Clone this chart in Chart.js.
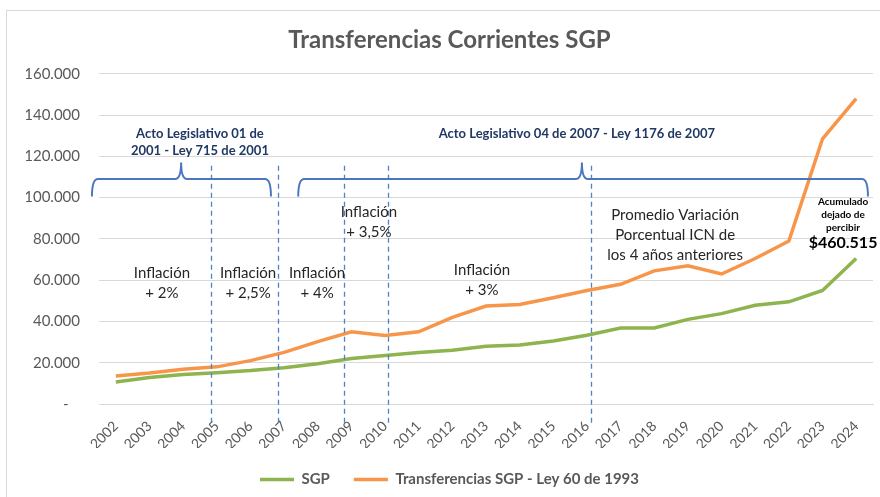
<!DOCTYPE html>
<html>
<head>
<meta charset="utf-8">
<script src="https://cdn.jsdelivr.net/npm/chart.js@4"></script>
<style>
  html, body { margin: 0; padding: 0; background: #fff; }
  #wrap { width: 880px; height: 497px; position: relative; }
</style>
</head>
<body>
<div id="wrap"><canvas id="lineChart"></canvas></div>
<script>
// datos
const years = ['2002','2003','2004','2005','2006','2007','2008','2009','2010','2011','2012','2013',
               '2014','2015','2016','2017','2018','2019','2020','2021','2022','2023','2024'];
const sgp = [10700, 12800, 14300, 15200, 16200, 17600, 19500, 22000, 23500, 25000, 26000, 28000,
             28600, 30500, 33300, 36800, 36800, 41000, 43800, 47800, 49500, 55000, 70500];
const ley60 = [13600, 15000, 16800, 18000, 21000, 25000, 30200, 35000, 33200, 35000, 42000, 47500,
               48200, 51500, 55000, 58000, 64500, 67000, 63000, 70500, 79000, 128500, 148000];
const yTicks = [0, 20000, 40000, 60000, 80000, 100000, 120000, 140000, 160000];

// anotaciones (en unidades de los ejes: indice de año / valor)
const dashedAt = [2.83, 4.82, 6.78, 8.09, 14.12];
const braces = [
    { from: -0.71, to: 4.61, peak: 1.94 },
    { from: 5.42, to: 22.35, peak: 13.85 }
];
const actoLabels = [
    { x: 2.5, y: 131000, lines: ['Acto Legislativo 01 de', '2001 - Ley 715 de 2001'] },
    { x: 13.7, y: 131000, lines: ['Acto Legislativo 04 de 2007 - Ley 1176 de 2007'] }
];
const inflacionLabels = [
    { x: 1.37, y: 63200, lines: ['Inflación', '+ 2%'] },
    { x: 3.93, y: 63200, lines: ['Inflación', '+ 2,5%'] },
    { x: 5.98, y: 63200, lines: ['Inflación', '+ 4%'] },
    { x: 7.52, y: 92900, lines: ['Inflación', '+ 3,5%'] },
    { x: 10.88, y: 64700, lines: ['Inflación', '+ 3%'] },
    { x: 16.62, y: 91400, lines: ['Promedio Variación', 'Porcentual ICN de', 'los 4 años anteriores'] }
];
const acumuladoLines = ['Acumulado', 'dejado de', 'percibir'];
const acumuladoTotal = '$460.515';

function fmtMiles(v) {
    if (v === 0) return '-   ';
    return String(v).replace(/\B(?=(\d{3})+(?!\d))/g, '.');
}

const annotationPlugin = {
    id: 'notas',
    beforeDraw(chart) {
        const ctx = chart.ctx;
        ctx.save();
        ctx.fillStyle = '#ffffff';
        ctx.fillRect(0, 0, chart.width, chart.height);
        ctx.strokeStyle = '#d9d9d9';
        ctx.lineWidth = 1;
        ctx.strokeRect(6.5, 10.5, chart.width + 10, chart.height + 10);
        ctx.restore();
    },
    afterDraw(chart) {
        const ctx = chart.ctx;
        const xs = chart.scales.x, ys = chart.scales.y;
        ctx.save();

        // lineas punteadas
        ctx.strokeStyle = '#4f81c7';
        ctx.lineWidth = 1.3;
        ctx.setLineDash([5, 4]);
        dashedAt.forEach(function (d) {
            const px = Math.round(xs.getPixelForValue(d)) + 0.5;
            ctx.beginPath();
            ctx.moveTo(px, ys.getPixelForValue(115500));
            ctx.lineTo(px, ys.getPixelForValue(-11000));
            ctx.stroke();
        });
        ctx.setLineDash([]);

        // llaves
        ctx.strokeStyle = '#4a78c0';
        ctx.lineWidth = 2;
        braces.forEach(function (b) {
            const xl = xs.getPixelForValue(b.from), xr = xs.getPixelForValue(b.to);
            const xp = xs.getPixelForValue(b.peak);
            const yb = ys.getPixelForValue(109000), ye = ys.getPixelForValue(100500);
            const yt = ys.getPixelForValue(117000);
            const r = 6;
            ctx.beginPath();
            ctx.moveTo(xl, ye);
            ctx.quadraticCurveTo(xl, yb, xl + r, yb);
            ctx.lineTo(xp - r, yb);
            ctx.quadraticCurveTo(xp, yb, xp, yt);
            ctx.quadraticCurveTo(xp, yb, xp + r, yb);
            ctx.lineTo(xr - r, yb);
            ctx.quadraticCurveTo(xr, yb, xr, ye);
            ctx.stroke();
        });

        ctx.textAlign = 'center';
        ctx.textBaseline = 'middle';

        ctx.fillStyle = '#1f3864';
        ctx.font = 'bold 13px Lato';
        actoLabels.forEach(function (a) {
            const px = xs.getPixelForValue(a.x);
            const py = ys.getPixelForValue(a.y);
            a.lines.forEach(function (t, i) { ctx.fillText(t, px, py + i * 17); });
        });

        ctx.fillStyle = '#262626';
        ctx.font = '15px Lato';
        inflacionLabels.forEach(function (a) {
            const px = xs.getPixelForValue(a.x);
            const py = ys.getPixelForValue(a.y);
            a.lines.forEach(function (t, i) { ctx.fillText(t, px, py + i * 20); });
        });

        ctx.fillStyle = '#000000';
        ctx.font = 'bold 10px Lato';
        const ax = xs.getPixelForValue(21.61);
        const ay = ys.getPixelForValue(98200);
        acumuladoLines.forEach(function (t, i) { ctx.fillText(t, ax, ay + i * 13); });
        ctx.font = 'bold 16px Lato';
        ctx.fillText(acumuladoTotal, ax, ay + 42);

        ctx.restore();
    }
};

const ctx = document.getElementById('lineChart').getContext('2d');
new Chart(ctx, {
    type: 'line',
    data: {
        labels: years,
        datasets: [{
            label: 'SGP',
            data: sgp,
            borderColor: '#8db44e',
            backgroundColor: '#8db44e',
            borderWidth: 3.5,
            pointRadius: 0,
            tension: 0
        }, {
            label: 'Transferencias SGP - Ley 60 de 1993',
            data: ley60,
            borderColor: '#f7964a',
            backgroundColor: '#f7964a',
            borderWidth: 3.5,
            pointRadius: 0,
            tension: 0
        }]
    },
    options: {
        responsive: true,
        maintainAspectRatio: false,
        animation: false,
        layout: { padding: { left: 26, right: 7, top: 0, bottom: 0 } },
        scales: {
            x: {
                type: 'category',
                offset: true,
                grid: { display: false },
                border: { color: '#d9d9d9' },
                ticks: {
                    minRotation: 45, maxRotation: 45,
                    padding: 6,
                    color: '#595959',
                    font: { family: 'Lato', size: 14 }
                },
                afterFit: function (s) { s.height = 44; }
            },
            y: {
                min: 0, max: 160000,
                afterBuildTicks: function (s) { s.ticks = yTicks.map(v => ({ value: v })); },
                grid: { color: '#d9d9d9', drawTicks: false },
                border: { display: false },
                ticks: {
                    padding: 19,
                    color: '#595959',
                    font: { family: 'Lato', size: 15 },
                    callback: function (v) { return fmtMiles(v); }
                },
                afterFit: function (s) { s.width = 73; }
            }
        },
        plugins: {
            title: {
                display: true,
                text: 'Transferencias Corrientes SGP',
                color: '#595959',
                font: { family: 'Lato', size: 24, weight: 'bold' },
                padding: { top: 26, bottom: 19 }
            },
            legend: {
                position: 'bottom',
                labels: {
                    usePointStyle: true,
                    pointStyle: 'line',
                    pointStyleWidth: 34,
                    padding: 24,
                    color: '#595959',
                    font: { family: 'Lato', size: 15, weight: 'bold' }
                }
            },
            tooltip: { enabled: false }
        }
    },
    plugins: [annotationPlugin]
});
</script>
</body>
</html>
